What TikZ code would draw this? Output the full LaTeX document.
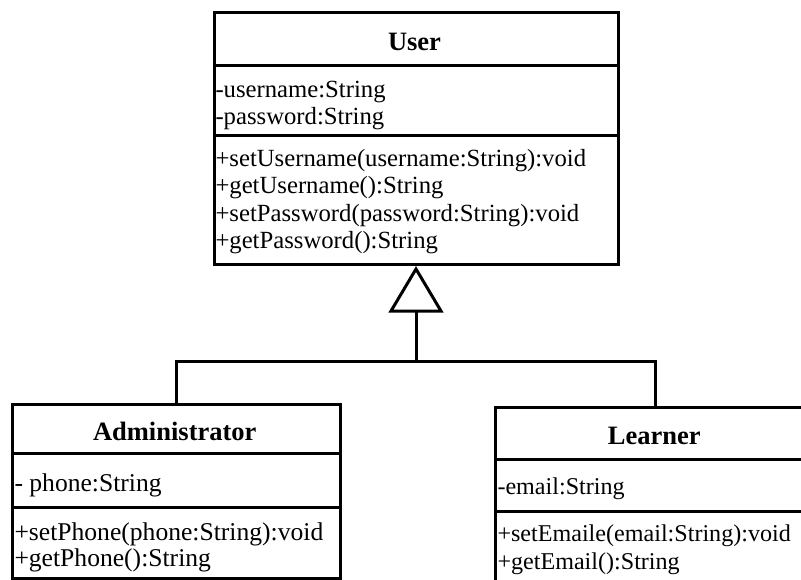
\documentclass[tikz,border=0pt]{standalone}
\usepackage{fontspec}
\setmainfont{Liberation Serif}
\usetikzlibrary{calc}
\begin{document}
\begin{tikzpicture}[x=1pt,y=-1pt,line width=3pt,
  txt/.style={anchor=base west,inner sep=0pt,font=\fontsize{24.7}{27}\selectfont},
  txtadm/.style={anchor=base west,inner sep=0pt,font=\fontsize{25.6}{27}\selectfont},
  txtlrn/.style={anchor=base west,inner sep=0pt,font=\fontsize{24.1}{27}\selectfont},
  ttl/.style={anchor=base,inner sep=0pt,font=\fontsize{26.5}{28}\selectfont\bfseries},
  classbox/.style={draw,line width=3pt,rectangle,inner sep=0pt,anchor=north west},
  divider/.style={line width=3pt},
  conn/.style={line width=3pt,line join=miter}]
\useasboundingbox (0,0) rectangle (801,579);
\clip (0,0) rectangle (801,579);

% User class
\node[classbox,minimum width=404pt,minimum height=252pt] (user) at (212.5,11) {};
\draw[divider] (212.5,65) -- (616.5,65);
\draw[divider] (212.5,135) -- (616.5,135);
\node[ttl] (usert) at (414.5,50) {User};
\node[txt] (ua1) at (214,97) {-username:String};
\node[txt] (ua2) at (214,124) {-password:String};
\node[txt] (um1) at (214,166) {+setUsername(username:String):void};
\node[txt] (um2) at (214,193) {+getUsername():String};
\node[txt] (um3) at (214,221) {+setPassword(password:String):void};
\node[txt] (um4) at (214,248) {+getPassword():String};

% Administrator class
\node[classbox,minimum width=327.5pt,minimum height=174pt] (adm) at (11,403) {};
\draw[divider] (11,453) -- (338.5,453);
\draw[divider] (11,507) -- (338.5,507);
\node[ttl] (admt) at (174.75,440) {Administrator};
\node[txtadm] (aa1) at (13,491) {- phone:String};
\node[txtadm] (am1) at (13,540) {+setPhone(phone:String):void};
\node[txtadm] (am2) at (13,566) {+getPhone():String};

% Learner class
\node[classbox,minimum width=321.5pt,minimum height=200pt] (lrn) at (493.5,406) {};
\draw[divider] (493.5,459) -- (815,459);
\draw[divider] (493.5,511) -- (815,511);
\node[ttl] (lrnt) at (654.25,444) {Learner};
\node[txtlrn] (la1) at (496,494) {-email:String};
\node[txtlrn] (lm1) at (496,541) {+setEmaile(email:String):void};
\node[txtlrn] (lm2) at (496,569) {+getEmail():String};

% Generalization
\coordinate (jn) at ($(user.south)+(0,95)$);
\coordinate (tribase) at ($(user.south)+(0,45)$);
\draw[conn] (adm.north) |- (jn) -| (lrn.north);
\draw[conn] (jn) -- (tribase);
\draw[conn] ($(user.south)+(0,3)$) -- ($(tribase)+(-25,0)$) -- ($(tribase)+(25,0)$) -- cycle;
\end{tikzpicture}
\end{document}
